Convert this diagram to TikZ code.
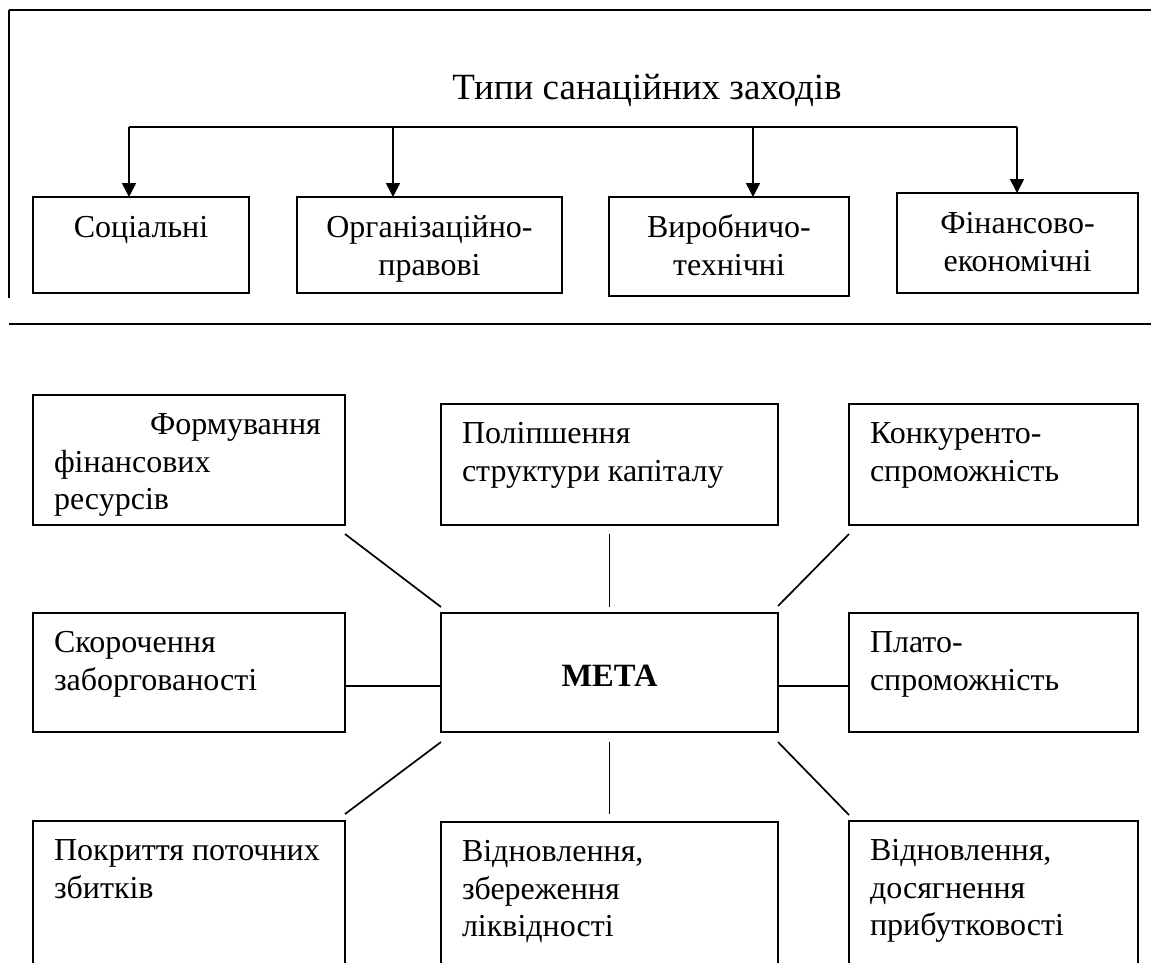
\documentclass[tikz,border=0pt]{standalone}
\usepackage{fontspec}
\setmainfont{Liberation Serif}
\usetikzlibrary{arrows.meta}
\newcommand{\boxtext}[4][\raggedright\leftskip=21pt\relax]{%
  \parbox[t][#3pt][t]{#2pt}{#1\vspace*{13.5pt}\strut#4}}
\begin{document}
\begin{tikzpicture}
    [
    x=1pt,y=-1pt,
    box/.style={draw,line width=2pt,inner sep=0pt,outer sep=0pt,anchor=north west},
    bigtext/.style={font=\fontsize{32}{38}\selectfont},
    smalltext/.style={font=\fontsize{32}{37.5}\selectfont},
    link/.style={line width=1.7pt},
    arrow/.style={line width=1.7pt,-{Triangle[length=14pt,width=14pt]}},
    rule/.style={line width=2.8pt},
    ]
    \clip (0,0) rectangle (1151,963);
    % frame of the upper part
    \draw [rule] (9,10) -- (1151,10);
    \draw [line width=2pt] (9,10) -- (9,298);
    \draw [rule] (9,324) -- (1151,324);
    % types
    \node (title) at (647,100) [anchor=base,font=\fontsize{37}{44}\selectfont] {Типи санаційних заходів};
    \node (soc) at (33,197) [box,bigtext] {\boxtext[\centering]{216}{96}{Соціальні}};
    \node (org) at (297,197) [box,bigtext] {\boxtext[\centering]{265}{96}{Організаційно-\\правові}};
    \node (vyr) at (609,197) [box,bigtext] {\boxtext[\centering]{240}{99}{Виробничо-\\технічні}};
    \node (fin) at (897,193) [box,bigtext] {\boxtext[\centering]{241}{100}{Фінансово-\\економічні}};
    \coordinate (b1) at (129,127);
    \coordinate (b2) at (393,127);
    \coordinate (b3) at (753,127);
    \coordinate (b4) at (1017,127);
    \draw [link] (b1) -- (b4);
    \draw [arrow] (b1) -- (b1 |- soc.north);
    \draw [arrow] (b2) -- (b2 |- org.north);
    \draw [arrow] (b3) -- (b3 |- vyr.north);
    \draw [arrow] (b4) -- (b4 |- fin.north);
    % goal
    \node (fr) at (33,395) [box,smalltext] {\boxtext{312}{130}{\hspace*{96pt}Формування\\фінансових\\ресурсів}};
    \node (psk) at (441,404) [box,smalltext] {\boxtext{337}{121}{Поліпшення\\структури капіталу}};
    \node (konk) at (849,404) [box,smalltext] {\boxtext{289}{121}{Конкуренто-\\спроможність}};
    \node (sz) at (33,613) [box,smalltext] {\boxtext{312}{119}{Скорочення\\заборгованості}};
    \node (meta) at (441,613) [box,font=\fontsize{32.5}{38}\selectfont] {\parbox[c][119pt][c]{337pt}{\vspace*{6pt}\centering\bfseries МЕТА}};
    \node (plato) at (849,613) [box,smalltext] {\boxtext{289}{119}{Плато-\\спроможність}};
    \node (ppz) at (33,821) [box,smalltext] {\boxtext{312}{200}{Покриття поточних\\збитків}};
    \node (vzl) at (441,822) [box,smalltext] {\boxtext{337}{200}{Відновлення,\\збереження\\ліквідності}};
    \node (vdp) at (849,821) [box,smalltext] {\boxtext{289}{200}{Відновлення,\\досягнення\\прибутковості}};
    \draw [link] ([yshift=-9pt]fr.south east) -- ([yshift=6pt]meta.north west);
    \draw [link] ([yshift=-9pt]psk.south) -- ([yshift=6pt]meta.north);
    \draw [link] ([yshift=-9pt]konk.south west) -- ([yshift=7pt]meta.north east);
    \draw [link] ([yshift=-13.5pt]sz.east) -- ([yshift=-13.5pt]meta.west);
    \draw [link] ([yshift=-13.5pt]meta.east) -- ([yshift=-13.5pt]plato.west);
    \draw [link] ([yshift=-10pt]meta.south west) -- ([yshift=7pt]ppz.north east);
    \draw [link] ([yshift=-10pt]meta.south) -- ([yshift=8pt]vzl.north);
    \draw [link] ([yshift=-10pt]meta.south east) -- ([yshift=6pt]vdp.north west);
  \end{tikzpicture}
\end{document}
